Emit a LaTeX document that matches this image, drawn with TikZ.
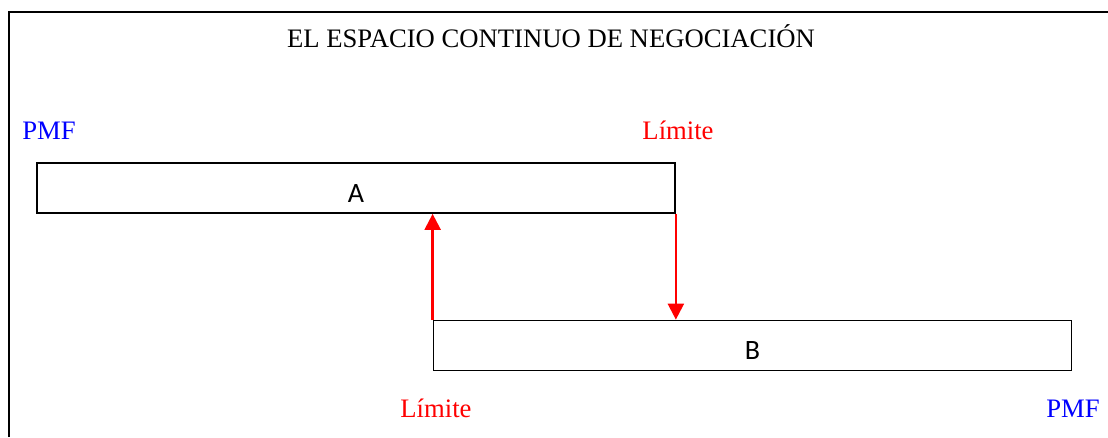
\documentclass[tikz,border=0pt]{standalone}
\usepackage{fontspec}
\setmainfont{Liberation Serif}
\newfontfamily\boxfont{Carlito}
\usepackage{tikz}
\usetikzlibrary{arrows.meta,calc,positioning}

\begin{document}
\begin{tikzpicture}[x=0.75pt,y=-0.75pt]
	\tikzstyle{bar} = [draw, line width=1.3pt, minimum width=478.5pt, minimum height=37.5pt, inner sep=0pt, font=\boxfont\fontsize{21}{25}\selectfont, text height=21pt, text depth=0pt]
	\tikzstyle{limit} = [red, line width=1.8pt, -{Triangle[length=12pt,width=12pt]}]
	\tikzstyle{tag} = [inner sep=0pt, font=\fontsize{20}{24}\selectfont]
	\useasboundingbox (0,0) rectangle (1108,437);
	% frame
	\draw[line width=1.8pt] (9,437) -- (9,12) -- (1108,12);
	\coordinate (cA) at (356,188);
	\coordinate (cB) at (752.5,345.5);
	\node[tag, anchor=base] (title) at (551,47) {EL ESPACIO CONTINUO DE NEGOCIACIÓN};
	\node[bar] (A) at (cA) {A};
	\node[bar] (B) at (cB) {B};
	\node[tag, blue, anchor=base west] (pmfA) at (22,139) {PMF};
	\node[tag, red, anchor=base] (limA) at (678,139) {Límite};
	\node[tag, red, anchor=base] (limB) at (436,417) {Límite};
	\node[tag, blue, anchor=base] (pmfB) at (1073,417) {PMF};
	\draw[limit] (B.north west) -- (B.north west |- A.south);
	\draw[limit] (A.south east) -- (A.south east |- B.north);
\end{tikzpicture}
\end{document}
